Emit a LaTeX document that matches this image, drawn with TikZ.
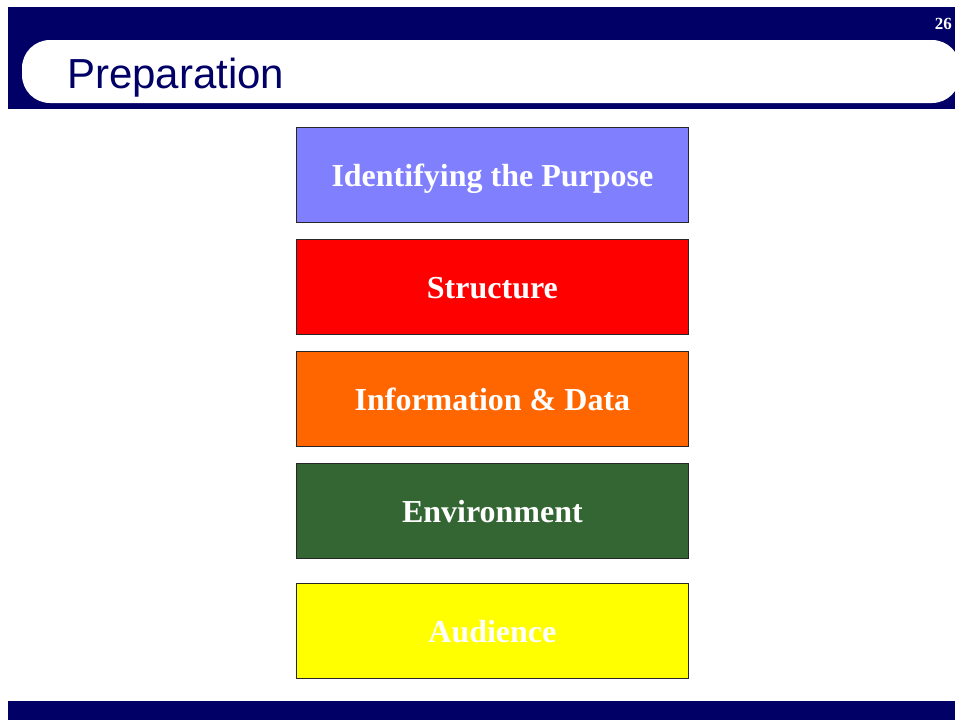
\documentclass[tikz,border=0pt]{standalone}
\usepackage{fontspec}
\setmainfont{Liberation Serif}
\newfontfamily\titlefont{Liberation Sans}
\definecolor{navy}{HTML}{000066}
\definecolor{lilac}{HTML}{8080FF}
\definecolor{brightred}{HTML}{FF0000}
\definecolor{deeporange}{HTML}{FF6600}
\definecolor{forest}{HTML}{336633}
\definecolor{lemon}{HTML}{FFFF00}
\begin{document}
\begin{tikzpicture}[x=1pt,y=-1pt,
  stagebox/.style={draw=black!85, line width=0.8pt, minimum width=392pt, minimum height=95pt,
    anchor=north west, inner sep=0pt, text=white, text height=23pt, text depth=0pt,
    font=\bfseries\fontsize{32}{38}\selectfont},
]
\useasboundingbox (0,0) rectangle (955,720);
\clip (0,0) rectangle (955,720);
% header band with rounded white title strip
\fill[navy] (8,7) rectangle (960,109);
\fill[white, rounded corners=28pt] (22,40) rectangle (960,103);
\node[anchor=base west, text=navy, inner sep=0pt,
  font=\titlefont\fontsize{42}{48}\selectfont] (title) at (67,88) {Preparation};
\node[anchor=base east, text=white, inner sep=0pt,
  font=\bfseries\fontsize{17}{20}\selectfont] (pagenum) at (952,29) {26};
% footer band
\fill[navy] (8,701) rectangle (960,720);
% stacked stages
\node[stagebox, fill=lilac] (purpose) at (296,127) {Identifying the Purpose};
\node[stagebox, fill=brightred] (structure) at (296,239) {Structure};
\node[stagebox, fill=deeporange] (info) at (296,351) {Information \& Data};
\node[stagebox, fill=forest] (env) at (296,463) {Environment};
\node[stagebox, fill=lemon] (audience) at (296,583) {Audience};
\end{tikzpicture}
\end{document}
